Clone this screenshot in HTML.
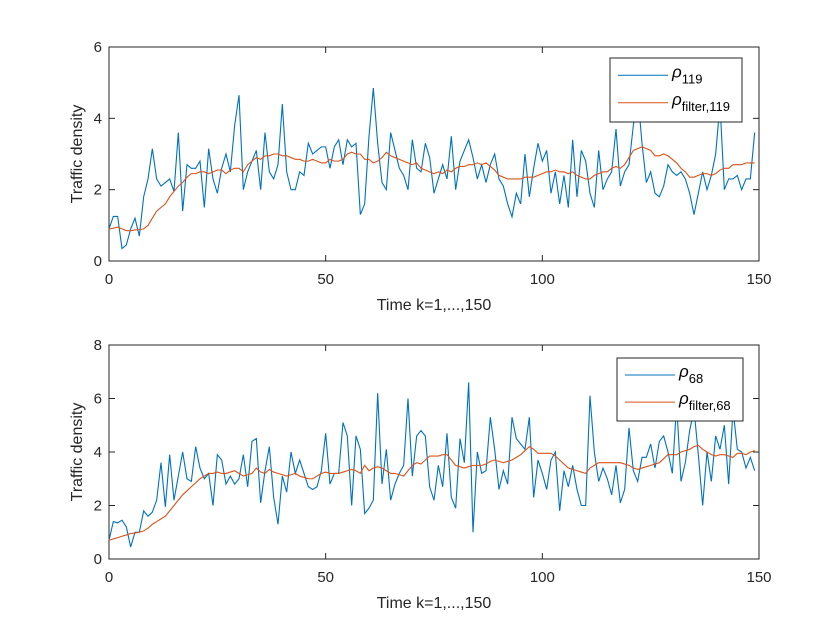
<!DOCTYPE html>
<html><head><meta charset="utf-8"><style>
body{margin:0;background:#fff}
svg{display:block;font-family:"Liberation Sans",sans-serif}
</style></head><body>
<svg id="c" width="840" height="630"></svg>
<script>
const xTicks=[0,50,100,150];
const topYTicks=[0,2,4,6];
const botYTicks=[0,2,4,6,8];
const rho119=[0.9,1.25,1.25,0.35,0.45,0.9,1.2,0.7,1.8,2.3,3.15,2.3,2.1,2.2,2.3,1.95,3.6,1.4,2.7,2.6,2.6,2.8,1.5,3.15,2.3,1.9,2.6,3.0,2.5,3.8,4.65,2.0,2.5,2.8,3.1,2.0,3.6,2.5,2.3,2.7,4.4,2.5,2.0,2.0,2.5,2.4,3.3,3.0,3.1,3.2,3.2,2.6,3.2,3.4,2.7,3.4,3.2,3.3,1.3,1.6,3.5,4.85,3.3,2.2,2.0,3.6,3.1,2.6,2.4,2.0,3.4,2.6,2.5,3.3,2.9,1.9,2.3,2.7,2.3,3.5,2.0,2.8,3.1,3.4,2.9,2.3,2.7,2.2,2.7,3.0,
2.3,2.1,1.6,1.24,1.9,1.6,3.0,1.8,2.6,3.3,2.8,3.1,1.9,2.5,1.6,2.4,1.5,3.4,1.8,3.1,2.8,1.9,1.5,3.1,2.0,2.3,2.5,3.7,2.1,2.5,2.7,3.8,4.7,3.3,2.2,2.5,1.9,1.8,2.1,2.7,2.5,2.4,2.5,2.3,1.9,1.3,1.9,2.5,2.0,2.4,3.0,4.4,2.0,2.3,2.3,2.4,2.0,2.3,2.3,3.6];
const filt119=[0.9,0.92,0.95,0.9,0.85,0.85,0.87,0.88,0.9,1.0,1.2,1.4,1.5,1.6,1.8,1.95,2.1,2.2,2.35,2.45,2.45,2.5,2.5,2.45,2.5,2.55,2.55,2.45,2.55,2.6,2.6,2.5,2.7,2.8,2.9,2.85,2.95,2.95,3.0,3.0,2.95,2.95,2.9,2.85,2.85,2.8,2.8,2.85,2.8,2.75,2.75,2.85,2.8,2.8,2.85,3.0,3.05,3.0,3.0,2.85,2.85,2.75,2.8,2.9,3.05,2.95,2.9,2.85,2.8,2.75,2.7,2.75,2.6,2.55,2.5,2.45,2.5,2.45,2.55,2.5,2.6,2.65,2.65,2.7,2.7,2.75,2.7,2.75,2.65,2.55,2.4,2.35,2.3,2.3,2.3,2.3,2.35,2.35,2.35,2.4,2.45,2.5,2.5,2.55,2.5,2.5,2.45,2.5,2.4,2.35,2.3,2.3,2.4,2.45,2.5,2.5,2.6,2.65,2.6,2.7,2.9,3.1,3.15,3.2,3.15,3.1,2.95,2.95,3.0,2.95,2.85,2.75,2.6,2.5,2.35,2.35,2.4,2.45,2.45,2.4,2.45,2.55,2.6,2.6,2.7,2.7,2.7,2.75,2.75,2.75];
const rho68=[0.7,1.4,1.35,1.45,1.2,0.45,1.0,1.0,1.8,1.6,
1.75,2.2,3.6,1.95,3.9,2.2,3.1,4.0,3.0,2.9,
4.2,3.4,3.0,3.2,2.0,3.9,3.7,2.8,3.1,2.8,
3.0,3.9,2.7,4.4,4.5,2.1,3.3,4.2,2.3,1.3,
3.1,2.5,4.0,3.2,3.7,3.2,2.7,2.6,2.7,3.3,
4.7,2.8,3.2,3.2,5.1,4.6,2.0,4.6,4.1,1.7,
1.9,2.2,6.2,2.8,4.1,2.2,2.8,3.2,3.5,6.0,
3.1,4.6,4.8,4.6,2.7,2.2,
3.5,2.7,4.7,2.3,1.9,4.5,3.6,6.6,1.0,4.0,
3.2,3.3,5.3,4.1,2.6,3.3,2.8,5.3,4.5,4.3,
4.1,5.3,2.3,3.7,3.2,2.6,3.7,4.0,1.8,3.3,
2.7,3.5,2.6,2.0,2.0,6.1,4.0,2.9,3.4,3.0,
2.4,3.5,2.1,2.6,4.9,3.3,2.9,3.8,3.8,4.3,
3.4,4.4,4.6,4.0,3.2,5.8,2.9,3.6,4.8,5.6,
3.9,2.0,4.0,2.9,4.6,4.1,5.0,2.8,5.6,4.1,
4.0,3.4,3.8,3.3];
const filt68=[0.7,0.75,0.8,0.85,0.9,0.95,0.97,1.0,1.05,1.15,
1.3,1.4,1.5,1.6,1.8,2.0,2.2,2.4,2.55,2.7,
2.85,3.0,3.1,3.2,3.2,3.25,3.2,3.2,3.25,3.3,
3.2,3.1,3.15,3.2,3.4,3.25,3.2,3.35,3.25,3.2,
3.15,3.1,3.15,3.2,3.1,3.05,3.0,3.0,3.1,3.2,
3.25,3.2,3.2,3.2,3.25,3.3,3.35,3.3,3.2,3.5,
3.3,3.4,3.45,3.4,3.3,3.2,3.2,3.15,3.1,3.3,
3.5,3.6,3.55,3.7,3.85,3.85,3.85,3.9,3.9,3.7,
3.5,3.45,3.4,3.45,3.5,3.5,3.5,3.55,3.65,3.7,
3.65,3.6,3.65,3.7,3.8,3.9,4.05,4.2,4.1,3.95,
3.95,3.95,3.95,3.85,3.7,3.55,3.4,3.35,3.3,3.25,
3.2,3.4,3.5,3.6,3.6,3.6,3.6,3.6,3.6,3.55,
3.5,3.4,3.35,3.4,3.45,3.5,3.55,3.6,3.75,3.9,
3.9,3.9,4.0,4.05,4.1,4.2,4.25,4.1,4.0,3.9,
3.85,3.9,3.9,3.85,3.8,3.95,3.95,3.9,4.0,4.05];

const NS='http://www.w3.org/2000/svg';
const svg=document.getElementById('c');
function mk(tag,attrs,parent){const e=document.createElementNS(NS,tag);for(const k in attrs)e.setAttribute(k,attrs[k]);(parent||svg).appendChild(e);return e;}

function panel(id,top,bottom,ymax,yTicks,raw,filt,legTxt,legBox){
  const L=109,R=759;
  const g=mk('g',{});
  
  
  const xs=v=>L+(v/150)*(R-L);
  const ys=v=>bottom-(v/ymax)*(bottom-top);
  mk('rect',{x:L,y:top,width:R-L,height:bottom-top,fill:'#fff',stroke:'#262626','stroke-width':1},g);
  xTicks.forEach(t=>{
    mk('line',{x1:xs(t),x2:xs(t),y1:bottom,y2:bottom-6,stroke:'#262626'},g);
    mk('line',{x1:xs(t),x2:xs(t),y1:top,y2:top+6,stroke:'#262626'},g);
    const tx=mk('text',{x:xs(t),y:bottom+23,'text-anchor':'middle','font-size':15,fill:'#262626'},g);
    tx.textContent=t;
    
    
  });
  yTicks.forEach(t=>{
    mk('line',{x1:L,x2:L+6,y1:ys(t),y2:ys(t),stroke:'#262626'},g);
    mk('line',{x1:R,x2:R-6,y1:ys(t),y2:ys(t),stroke:'#262626'},g);
    const tx=mk('text',{x:L-7,y:ys(t)+5,'text-anchor':'end','font-size':15,fill:'#262626'},g);
    tx.textContent=t;
    
    
  });
  const xl=mk('text',{x:(L+R)/2,y:bottom+49,'text-anchor':'middle','font-size':16,fill:'#262626'},g);
  xl.textContent='Time k=1,...,150';
  
  
  const yl=mk('text',{x:0,y:0,'text-anchor':'middle','font-size':16,fill:'#262626',transform:`translate(82,${(top+bottom)/2}) rotate(-90)`},g);
  yl.textContent='Traffic density';
  
  
  const p1=mk('polyline',{points:raw.slice(0,150).map((v,i)=>xs(i)+','+ys(v)).join(' '),fill:'none',stroke:'#0072BD','stroke-width':1.1},g);
  
  
  const p2=mk('polyline',{points:filt.slice(0,150).map((v,i)=>xs(i)+','+ys(v)).join(' '),fill:'none',stroke:'#D95319','stroke-width':1.1},g);
  
  
  const [bx,by,bw,bh]=legBox;
  const lg=mk('g',{},g);
  
  
  mk('rect',{x:bx,y:by,width:bw,height:bh,fill:'#fff',stroke:'#262626'},lg);
  [['#0072BD',legTxt[0]],['#D95319',legTxt[1]]].forEach((e,i)=>{
    const yy=by+bh*(i===0?0.27:0.7);
    mk('line',{x1:bx+8,x2:bx+58,y1:yy,y2:yy,stroke:e[0]},lg);
    const t=mk('text',{x:bx+62,y:yy+2,'font-size':17,fill:'#000','font-style':'italic'},lg);
    t.textContent='ρ';
    const s=mk('tspan',{dy:6,'font-size':13,'font-style':'normal'},t);
    s.textContent=e[1];
    
    
  });
}
panel('top',47,261,6,topYTicks,rho119,filt119,['119','filter,119'],[610,58,132,64]);
panel('bottom',345,559,8,botYTicks,rho68,filt68,['68','filter,68'],[617,358,126,63]);
</script>
</body></html>
